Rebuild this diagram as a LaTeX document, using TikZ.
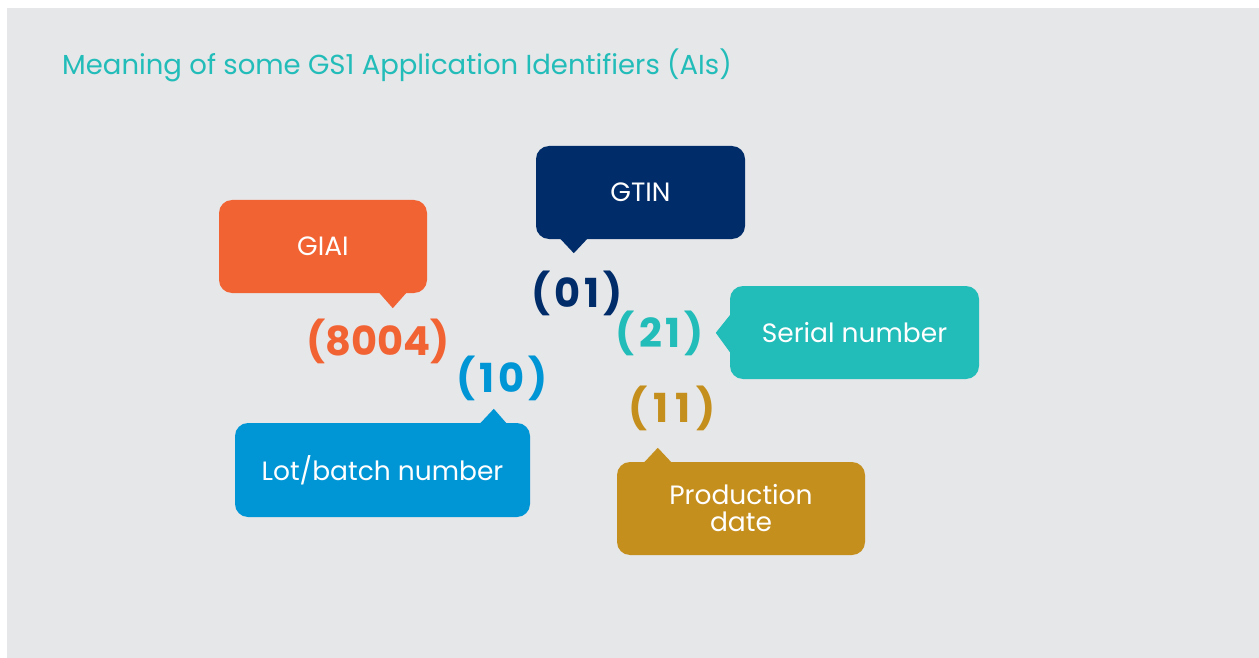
\documentclass[tikz,border=0pt]{standalone}
\usepackage{fontspec}
\setmainfont{Poppins}
\usetikzlibrary{calc}
\definecolor{bggray}{HTML}{E6E7E9}
\definecolor{gsorange}{HTML}{F26334}
\definecolor{gsnavy}{HTML}{002D6A}
\definecolor{gsteal}{HTML}{22BCB9}
\definecolor{gsblue}{HTML}{0096D6}
\definecolor{gsgold}{HTML}{C58F1E}
\tikzset{
  bubble/.style={rectangle, rounded corners=13pt, text=white, inner sep=0pt,
    align=center, font=\fontsize{26.5}{27}\selectfont},
  code/.style={inner sep=0pt, font=\fontsize{40}{44}\selectfont\bfseries},
  widecode/.style={code, font=\fontsize{40}{44}\selectfont\bfseries\addfontfeature{LetterSpace=#1}},
}
\begin{document}
\begin{tikzpicture}[x=1pt,y=-1pt]
\useasboundingbox (0,0) rectangle (1259,658);
\fill[white] (0,0) rectangle (1259,658);
\fill[bggray] (7,8) rectangle (1259,658);
\node[anchor=base west, text=gsteal, inner sep=0pt, font=\fontsize{27.5}{30}\selectfont] (title) at (62,75) {Meaning of some GS1 Application Identifiers (AIs)};
% bubbles
\node[bubble, fill=gsorange, minimum width=208pt, minimum height=93pt] (giai) at (323,246.5) {GIAI};
\node[bubble, fill=gsnavy, minimum width=209pt, minimum height=93pt] (gtin) at (640.5,192.5) {GTIN};
\node[bubble, fill=gsteal, minimum width=249pt, minimum height=93pt] (serial) at (854.5,332.5) {Serial number};
\node[bubble, fill=gsblue, minimum width=295pt, minimum height=94pt] (lot) at (382.5,470) {Lot/batch number};
\node[bubble, fill=gsgold, minimum width=248pt, minimum height=93pt] (prod) at (741,508.5) {Production\\date};
% tails
\fill[gsorange] ($(giai.south west)+(159,-2)$) -- ($(giai.south west)+(174,15)$) -- ($(giai.south west)+(189,-2)$) -- cycle;
\fill[gsnavy] ($(gtin.south west)+(23,-2)$) -- ($(gtin.south west)+(38,14)$) -- ($(gtin.south west)+(53,-2)$) -- cycle;
\fill[gsteal] ($(serial.north west)+(2,27)$) -- ($(serial.north west)+(-14,47)$) -- ($(serial.north west)+(2,69)$) -- cycle;
\fill[gsblue] ($(lot.north west)+(244,2)$) -- ($(lot.north west)+(259,-14)$) -- ($(lot.north west)+(273,2)$) -- cycle;
\fill[gsgold] ($(prod.north west)+(26,2)$) -- ($(prod.north west)+(41,-14)$) -- ($(prod.north west)+(56,2)$) -- cycle;
% codes
\node[widecode=10, text=gsnavy] (c01) at (577,293) {(01)};
\node[code, text=gsorange] (c8004) at (378,341) {(8004)};
\node[widecode=10, text=gsteal] (c21) at (660,333) {(21)};
\node[widecode=10, text=gsblue] (c10) at (502,378) {(10)};
\node[widecode=15, text=gsgold] (c11) at (672,408) {(11)};
\end{tikzpicture}
\end{document}
